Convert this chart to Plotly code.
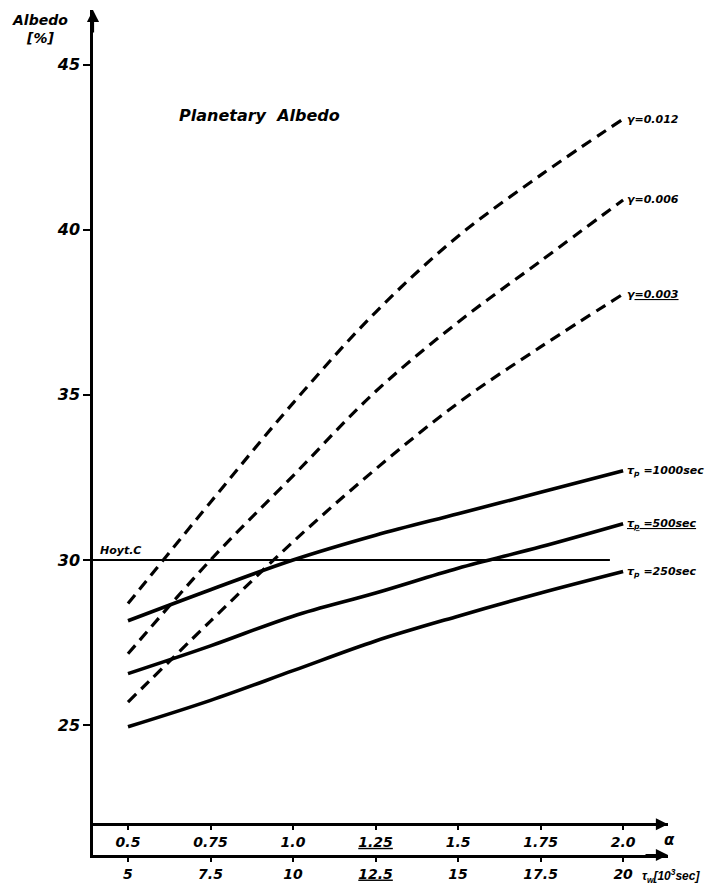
import plotly.graph_objects as go

# ---------------- data ----------------
alpha = [0.5, 0.75, 1.0, 1.25, 1.5, 1.75, 2.0]
tau_w = [5, 7.5, 10, 12.5, 15, 17.5, 20]
alpha_ticktext = ["0.5", "0.75", "1.0", "<u>1.25</u>", "1.5", "1.75", "2.0"]
tau_ticktext = ["5", "7.5", "10", "<u>12.5</u>", "15", "17.5", "20"]
y_ticks = [25, 30, 35, 40, 45]

gamma_012 = [28.68, 31.75, 34.75, 37.5, 39.8, 41.65, 43.35]
gamma_006 = [27.16, 30.0, 32.55, 35.1, 37.2, 39.05, 40.9]
gamma_003 = [25.7, 28.15, 30.55, 32.75, 34.75, 36.45, 38.05]
tau_p_1000 = [28.16, 29.1, 30.0, 30.75, 31.4, 32.05, 32.7]
tau_p_500 = [26.56, 27.4, 28.3, 29.0, 29.75, 30.4, 31.1]
tau_p_250 = [24.95, 25.75, 26.65, 27.55, 28.3, 29.0, 29.65]
hoyt_value = 30.0
hoyt_end_alpha = 1.96

dashed_series = [
    ("γ=0.012", gamma_012),
    ("γ=0.006", gamma_006),
    ("γ<u>=0.003</u>", gamma_003),
]
solid_series = [
    ("τ<sub>p</sub> =1000sec", tau_p_1000),
    ("<u>τ<sub>p</sub> =500sec</u>", tau_p_500),
    ("τ<sub>p</sub> =250sec", tau_p_250),
]

# ---------------- layout constants ----------------
W, H = 707, 894
ML, MR, MT, MB = 93, 39, 10, 39
x_range = [0.394, 2.136]
y_range = [21.07, 46.65]
alpha_axis_value = 22.0
alpha_pos = (alpha_axis_value - y_range[0]) / (y_range[1] - y_range[0])

FONT = "DejaVu Sans"
def f(size, family=FONT):
    return dict(family=family, size=size, color="black", weight="bold", style="italic")

fig = go.Figure()

for name, ys in dashed_series:
    fig.add_trace(go.Scatter(x=alpha, y=ys, mode="lines", name=name,
                             line=dict(color="black", width=3.2, dash="11px,7px", shape="spline"),
                             xaxis="x", yaxis="y", showlegend=False))
for name, ys in solid_series:
    fig.add_trace(go.Scatter(x=alpha, y=ys, mode="lines", name=name,
                             line=dict(color="black", width=3.6, shape="spline"),
                             xaxis="x", yaxis="y", showlegend=False))

# Hoyt line
fig.add_trace(go.Scatter(x=[x_range[0], hoyt_end_alpha], y=[hoyt_value, hoyt_value],
                         mode="lines", line=dict(color="black", width=1.8),
                         showlegend=False, xaxis="x", yaxis="y"))
# invisible trace on tau_w axis so that it is drawn
fig.add_trace(go.Scatter(x=[tau_w[0]], y=[y_range[0] - 10], mode="markers",
                         marker=dict(opacity=0), xaxis="x2", yaxis="y",
                         showlegend=False, hoverinfo="skip"))

ann = []
# curve labels
for name, ys in dashed_series + solid_series:
    ann.append(dict(x=alpha[-1], y=ys[-1], xref="x", yref="y", text=name,
                    showarrow=False, xanchor="left", yanchor="middle", xshift=2,
                    font=f(11)))

ann.append(dict(x=0.008, y=hoyt_value, xref="paper", yref="y", text="Hoyt.C",
                showarrow=False, xanchor="left", yanchor="bottom", yshift=1, font=f(11)))

ann.append(dict(x=0.29, y=0.875, xref="paper", yref="paper", text="Planetary  Albedo",
                showarrow=False, xanchor="center", yanchor="middle", font=f(16)))

# y axis title
ann.append(dict(x=-0.092, y=1.0, xref="paper", yref="paper", text="Albedo<br>[%]",
                showarrow=False, xanchor="center", yanchor="top", align="center",
                font=f(14)))

# axis titles at bottom
ann.append(dict(x=0.99, y=alpha_pos, xref="paper", yref="paper", text="α",
                showarrow=False, xanchor="left", yanchor="top", yshift=-5, font=f(15)))
ann.append(dict(x=0.952, y=0.0, xref="paper", yref="paper",
                text="τ<sub>w</sub>[10<sup>3</sup>sec]",
                showarrow=False, xanchor="left", yanchor="top", yshift=-10,
                font=f(12, "Liberation Sans")))

# arrows
arrow = dict(showarrow=True, arrowhead=2, arrowsize=1.1, arrowwidth=2.2,
             arrowcolor="black", text="", xref="paper", yref="paper",
             axref="pixel", ayref="pixel")
ann.append(dict(arrow, x=0.0, y=1.0, ax=0, ay=24))
ann.append(dict(arrow, x=1.0, y=alpha_pos, ax=-24, ay=0))
ann.append(dict(arrow, x=1.0, y=0.0, ax=-24, ay=0))

fig.update_layout(
    width=W, height=H,
    margin=dict(l=ML, r=MR, t=MT, b=MB),
    plot_bgcolor="white", paper_bgcolor="white",
    showlegend=False,
    annotations=ann,
    xaxis=dict(range=x_range, anchor="free", position=alpha_pos, side="bottom",
               tickvals=alpha, ticktext=alpha_ticktext, ticks="outside",
               ticklen=4, tickwidth=2, tickcolor="black",
               showline=True, linewidth=2.5, linecolor="black",
               showgrid=False, zeroline=False, tickfont=f(14)),
    xaxis2=dict(range=[v * 10 for v in x_range], overlaying="x", anchor="y", side="bottom",
                tickvals=tau_w, ticktext=tau_ticktext, ticks="outside",
                ticklen=4, tickwidth=2, tickcolor="black",
                showline=True, linewidth=2.5, linecolor="black",
                showgrid=False, zeroline=False, tickfont=f(14)),
    yaxis=dict(range=y_range, tickvals=y_ticks, ticks="outside", ticklen=7,
               tickwidth=2, tickcolor="black", showline=True, linewidth=2.5,
               linecolor="black", showgrid=False, zeroline=False, tickfont=f(16)),
)

fig.write_html("out.html")
